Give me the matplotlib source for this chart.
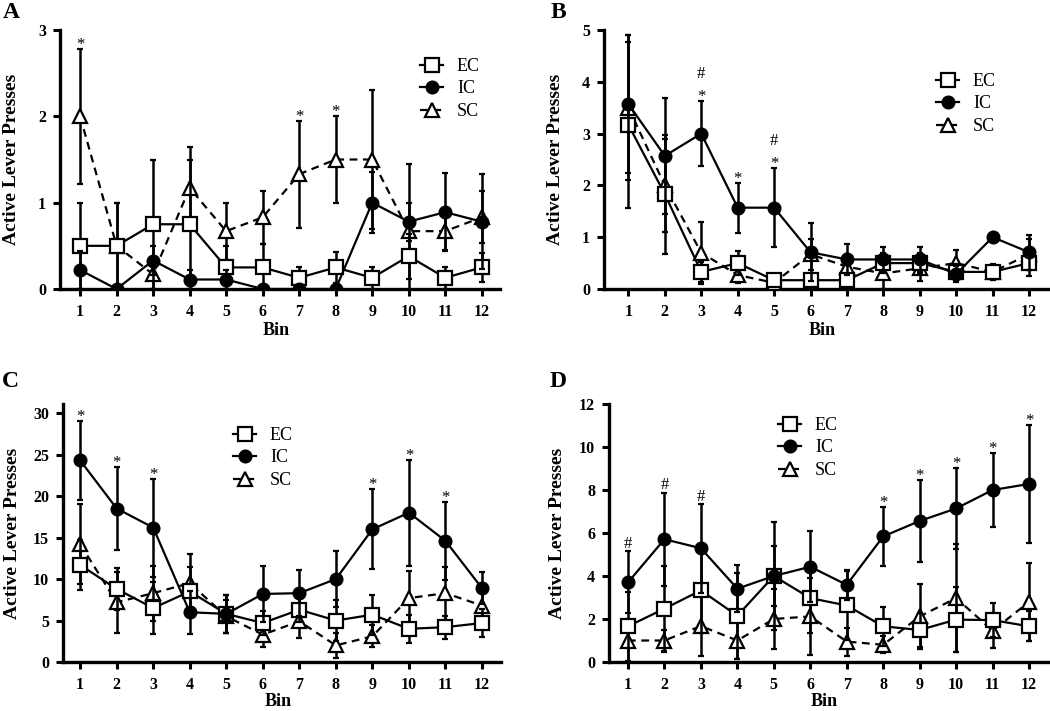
import matplotlib
matplotlib.use("Agg")
import matplotlib.pyplot as plt
from matplotlib.lines import Line2D
import numpy as np

plt.rcParams['font.family'] = ['Liberation Serif', 'DejaVu Serif']

bins = list(range(1, 13))
groups = ["EC", "IC", "SC"]

# Panel A
A_EC = [0.50, 0.50, 0.75, 0.75, 0.25, 0.25, 0.13, 0.25, 0.13, 0.38, 0.13, 0.25]
A_EC_err = [0.50, 0.50, 0.75, 0.75, 0.25, 0.27, 0.13, 0.18, 0.13, 0.26, 0.13, 0.17]
A_IC = [0.22, 0.00, 0.33, 0.11, 0.11, 0.00, 0.00, 0.00, 1.00, 0.78, 0.89, 0.78]
A_IC_err = [0.22, 0.00, 0.17, 0.11, 0.11, 0.00, 0.00, 0.00, 0.35, 0.22, 0.45, 0.55]
A_SC = [2.00, 0.50, 0.17, 1.17, 0.67, 0.83, 1.33, 1.50, 1.50, 0.67, 0.67, 0.83]
A_SC_err = [0.78, 0.50, 0.17, 0.48, 0.33, 0.31, 0.62, 0.50, 0.80, 0.78, 0.22, 0.30]

# Panel B
B_EC = [3.17, 1.83, 0.33, 0.50, 0.17, 0.17, 0.17, 0.50, 0.50, 0.33, 0.33, 0.50]
B_EC_err = [1.60, 1.15, 0.20, 0.23, 0.10, 0.10, 0.10, 0.20, 0.20, 0.15, 0.10, 0.25]
B_IC = [3.57, 2.57, 3.00, 1.57, 1.57, 0.71, 0.57, 0.57, 0.57, 0.29, 1.00, 0.71]
B_IC_err = [1.33, 1.12, 0.62, 0.48, 0.76, 0.56, 0.30, 0.25, 0.25, 0.15, 0.00, 0.34]
B_SC = [3.50, 2.00, 0.70, 0.27, 0.12, 0.67, 0.43, 0.30, 0.40, 0.50, 0.33, 0.67]
B_SC_err = [1.40, 0.90, 0.60, 0.15, 0.10, 0.30, 0.25, 0.30, 0.25, 0.25, 0.15, 0.30]

# Panel C
C_EC = [11.7, 8.8, 6.5, 8.5, 5.8, 4.7, 6.3, 5.0, 5.7, 4.0, 4.2, 4.7]
C_EC_err = [3.0, 2.5, 3.1, 3.0, 2.3, 1.5, 1.5, 2.5, 2.4, 1.7, 1.4, 1.7]
C_IC = [24.3, 18.5, 16.2, 6.0, 5.8, 8.2, 8.3, 10.0, 16.0, 18.0, 14.6, 8.9]
C_IC_err = [4.8, 5.0, 5.9, 2.6, 2.3, 3.4, 2.8, 3.4, 4.8, 6.4, 4.7, 1.9]
C_SC = [14.2, 7.2, 8.3, 9.5, 5.5, 3.3, 4.9, 2.0, 3.1, 7.7, 8.3, 6.8]
C_SC_err = [4.8, 3.7, 3.3, 3.5, 2.0, 1.5, 2.0, 1.5, 1.3, 3.3, 3.2, 1.8]

# Panel D
D_EC = [1.66, 2.48, 3.33, 2.15, 4.00, 2.97, 2.63, 1.66, 1.49, 1.97, 1.95, 1.66]
D_EC_err = [1.6, 2.0, 2.0, 2.0, 1.4, 1.6, 1.6, 0.9, 0.8, 1.5, 0.8, 0.7]
D_IC = [3.70, 5.71, 5.29, 3.41, 4.00, 4.43, 3.59, 5.84, 6.56, 7.14, 8.00, 8.28]
D_IC_err = [1.44, 2.17, 2.06, 1.10, 2.50, 1.64, 0.70, 1.39, 1.90, 1.90, 1.74, 2.74]
D_SC = [1.00, 1.00, 1.67, 1.00, 2.00, 2.12, 0.95, 0.80, 2.12, 2.97, 1.46, 2.79]
D_SC_err = [1.0, 0.5, 1.4, 0.85, 1.4, 1.8, 0.65, 0.4, 1.5, 2.5, 0.8, 1.8]

# significance marks: (bin, symbols stacked bottom->top), placed above the flagged series
A_marks = [(1, ["*"]), (7, ["*"]), (8, ["*"])]
B_marks = [(3, ["*", "#"]), (4, ["*"]), (5, ["*", "#"])]
C_marks = [(1, ["*"]), (2, ["*"]), (3, ["*"]), (9, ["*"]), (10, ["*"]), (11, ["*"])]
D_marks = [(1, ["#"]), (2, ["#"]), (3, ["#"]), (8, ["*"]), (9, ["*"]), (10, ["*"]), (11, ["*"]), (12, ["*"])]

W, H = 1050, 711
fig = plt.figure(figsize=(W / 100, H / 100), dpi=100)


def px_axes(l, t, r, b):
    return fig.add_axes([l / W, 1 - b / H, (r - l) / W, (b - t) / H])


panels = [
    dict(letter="A", box=(60, 30, 500, 289), xlim=(0.45, 12.5), ylim=(0, 3), yticks=[0, 1, 2, 3],
         ec=(A_EC, A_EC_err), ic=(A_IC, A_IC_err), sc=(A_SC, A_SC_err), marks=A_marks, flag="sc",
         leg=(420, 58), letter_xy=(3, 13), ylab_x=12, bin_y=331),
    dict(letter="B", box=(604, 30, 1048, 289), xlim=(0.33, 12.52), ylim=(0, 5), yticks=[0, 1, 2, 3, 4, 5],
         ec=(B_EC, B_EC_err), ic=(B_IC, B_IC_err), sc=(B_SC, B_SC_err), marks=B_marks, flag="ic",
         leg=(936, 73), letter_xy=(551, 13), ylab_x=556, bin_y=331),
    dict(letter="C", box=(63, 404, 501, 662), xlim=(0.53, 12.52), ylim=(0, 31.1), yticks=[0, 5, 10, 15, 20, 25, 30],
         ec=(C_EC, C_EC_err), ic=(C_IC, C_IC_err), sc=(C_SC, C_SC_err), marks=C_marks, flag="ic",
         leg=(233, 427), letter_xy=(2, 382), ylab_x=13, bin_y=701),
    dict(letter="D", box=(609, 404, 1048, 662), xlim=(0.48, 12.52), ylim=(0, 12), yticks=[0, 2, 4, 6, 8, 10, 12],
         ec=(D_EC, D_EC_err), ic=(D_IC, D_IC_err), sc=(D_SC, D_SC_err), marks=D_marks, flag="ic",
         leg=(778, 417), letter_xy=(550, 382), ylab_x=558, bin_y=701),
]

style = {
    "EC": dict(ls='-', marker='s', ms=10, mfc='white', zorder=4),
    "IC": dict(ls='-', marker='o', ms=8.5, mfc='black', zorder=5),
    "SC": dict(ls=(0, (3.5, 2.5)), marker='^', ms=10, mfc='white', zorder=3),
}

for p in panels:
    ax = px_axes(*p["box"])
    x = np.array(bins)
    ebkw = dict(ecolor='black', elinewidth=1.8, capsize=2.5, capthick=1.8)
    for g, key in (("SC", "sc"), ("EC", "ec"), ("IC", "ic")):
        v, e = p[key]
        st = style[g]
        ax.errorbar(x, v, yerr=e, color='black', ls=st['ls'], lw=1.6, marker=st['marker'],
                    ms=st['ms'], mfc=st['mfc'], mec='black', mew=1.6, zorder=st['zorder'], **ebkw)
    ax.set_xlim(*p["xlim"])
    ax.set_ylim(*p["ylim"])
    ax.set_xticks(bins)
    ax.set_yticks(p["yticks"])
    for s in ("top", "right"):
        ax.spines[s].set_visible(False)
    for s in ("left", "bottom"):
        ax.spines[s].set_linewidth(2.4)
    ax.tick_params(axis='x', direction='out', length=5, width=2.2, pad=6)
    ax.tick_params(axis='y', direction='out', length=5, width=2.2, pad=5)
    for lab in ax.get_xticklabels() + ax.get_yticklabels():
        lab.set_fontfamily('Liberation Serif')
        lab.set_fontweight('bold')
        lab.set_fontsize(11.5)
    ax.patch.set_alpha(0)

    # significance marks
    flag_v, flag_e = p[p["flag"]]
    for b, syms in p["marks"]:
        top = flag_v[b - 1] + flag_e[b - 1]
        for k, s in enumerate(syms):
            if s == "*":
                off = 0 + 16 * k
            else:
                off = 2.5 if k == 0 else 17
            ax.annotate(s, xy=(b, top), xytext=(0, off), textcoords='offset points',
                        ha='center', va='baseline', fontsize=12, fontfamily='Liberation Serif',
                        annotation_clip=False)

    # legend
    handles = []
    for g in groups:
        st = style[g]
        handles.append(Line2D([], [], color='black', ls=st['ls'], lw=1.6, marker=st['marker'],
                              ms=st['ms'], mfc=st['mfc'], mec='black', mew=1.6))
    lx, ly = p["leg"]
    ax.legend(handles, groups, loc='upper left',
              bbox_to_anchor=(lx / W, 1 - ly / H), bbox_transform=fig.transFigure,
              frameon=False, prop=dict(family='Liberation Serif', size=13),
              handlelength=1.3, handletextpad=0.75, labelspacing=0.3, borderaxespad=0,
              borderpad=0)

    # labels
    fig.text(p["letter_xy"][0] / W, 1 - p["letter_xy"][1] / H, p["letter"], fontsize=17,
             fontweight='bold', fontfamily='Liberation Serif', ha='left', va='center')
    cy = (p["box"][1] + p["box"][3]) / 2
    fig.text(p["ylab_x"] / W, 1 - cy / H, "Active Lever Presses", rotation=90, fontsize=14,
             fontweight='bold', fontfamily='Liberation Serif', ha='center', va='center')
    cx = (p["box"][0] + p["box"][2]) / 2 - 4
    fig.text(cx / W, 1 - p["bin_y"] / H, "Bin", fontsize=13, fontweight='bold',
             fontfamily='Liberation Serif', ha='center', va='center')

fig.savefig("out.png", dpi=100)
